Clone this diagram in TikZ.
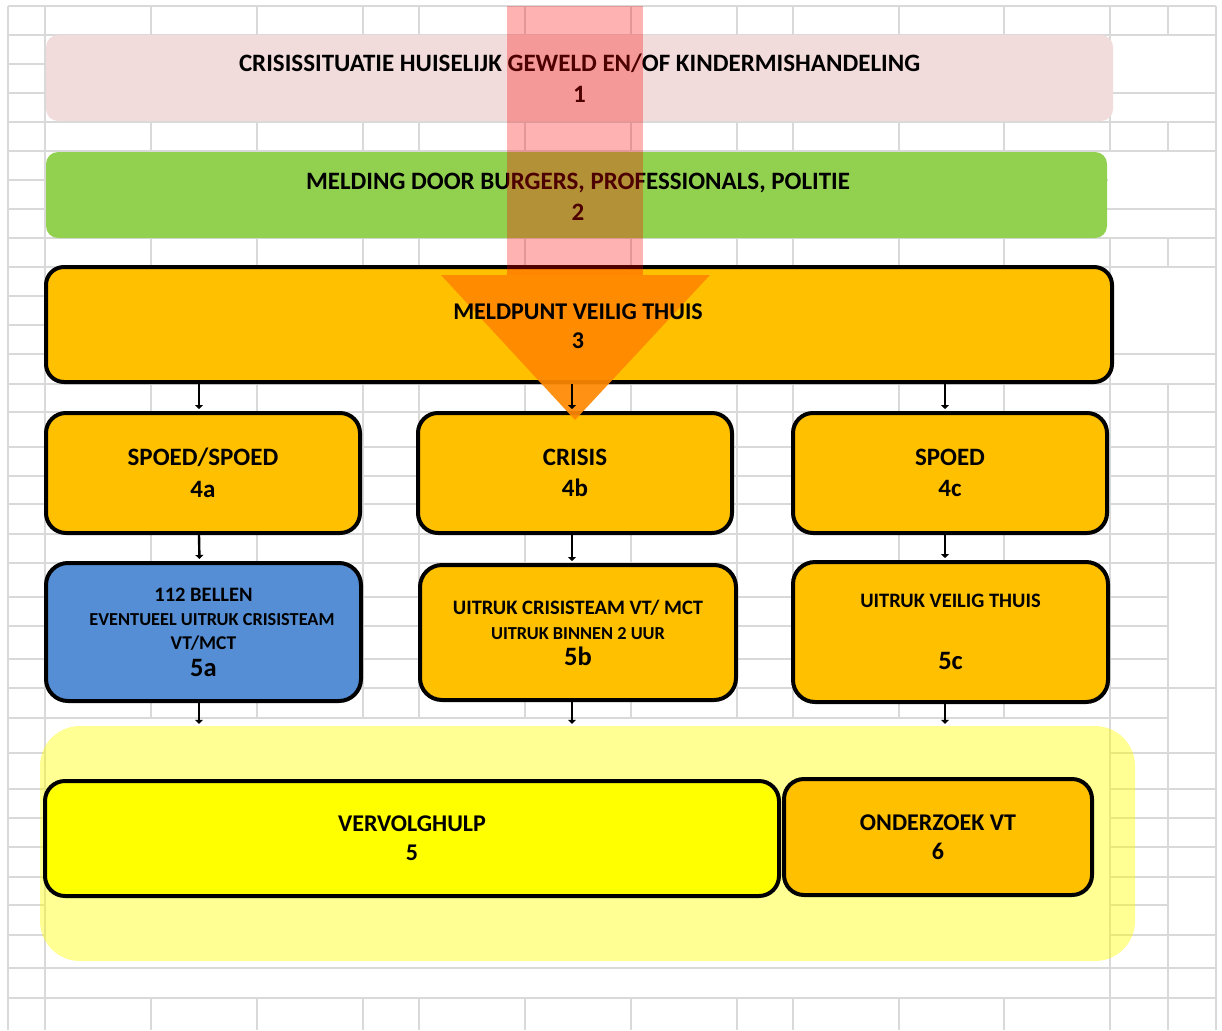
\documentclass[tikz,border=0pt]{standalone}
\usepackage{fontspec}
\setmainfont{Carlito}
\usetikzlibrary{arrows.meta}
\definecolor{gridgrey}{HTML}{D9D9D9}
\definecolor{boxpink}{HTML}{F2DCDB}
\definecolor{boxgreen}{HTML}{92D050}
\definecolor{boxorange}{HTML}{FFC000}
\definecolor{boxblue}{HTML}{558ED5}
\definecolor{boxyellow}{HTML}{FFFF00}
\definecolor{headorange}{HTML}{FF8800}
\newcommand\fBig{\fontsize{25}{31.5}\selectfont\bfseries}
\newcommand\fMed{\fontsize{24}{29}\selectfont\bfseries}
\newcommand\fNum{\fontsize{26.5}{31}\selectfont\bfseries}
\newcommand\fLineA{\fontsize{20.5}{25}\selectfont\bfseries}
\newcommand\fLineB{\fontsize{18.3}{25}\selectfont\bfseries}
\newcommand\fLineC{\fontsize{19.5}{24}\selectfont\bfseries}
\begin{document}
\begin{tikzpicture}[x=1pt,y=-1pt,
  gridline/.style={draw=gridgrey, line width=1.4pt},
  eraser/.style={fill=white, draw=none},
  flatbox/.style={rectangle, draw=none, align=center, text=black, font=\fBig},
  thickbox/.style={rectangle, draw=black, line width=4pt, align=center, text=black, font=\fBig},
  conn/.style={draw=black, line width=2.4pt, -{Triangle[length=4pt,width=8pt]}, shorten >=2pt},
]
\useasboundingbox (0,0) rectangle (1222,1030);
\fill[white] (0,0) rectangle (1222,1030);
% ---- spreadsheet grid ----
\foreach \gx in {8,45,151,257,363,419,525,631,737,793,899,1004,1110,1168,1216}
  \draw[gridline] (\gx,6) -- (\gx,1030);
\foreach \gy in {6,35,64,93,122,151,180,209,238,267,296,325,354,384,412,447,476,504,534,563,597,626,659,688,718,753,789,818,847,877,905,935,968,998}
  \draw[gridline] (8,\gy) -- (1216,\gy);
% merged cells
\fill[eraser] (1111,36) rectangle (1215,92);
\fill[eraser] (1111,94) rectangle (1215,121);
\fill[eraser] (1108,152) rectangle (1215,208);
\fill[eraser] (1108,210) rectangle (1215,237);
\fill[eraser] (1111,268) rectangle (1215,353);
\fill[eraser] (1111,355) rectangle (1215,383);
\fill[eraser] (1169,564) rectangle (1215,687);
\fill[eraser] (1169,689) rectangle (1215,752);
\fill[eraser] (1169,878) rectangle (1215,934);
\fill[eraser] (46,719) rectangle (1109,967);
\fill[eraser] (46,969) rectangle (1109,997);
% ---- background group ----
\node[rectangle, fill=boxyellow, fill opacity=0.42, rounded corners=40pt,
      minimum width=1095pt, minimum height=235pt] (grp) at (587.5,843.5) {};
% ---- boxes ----
\node[flatbox, fill=boxpink, rounded corners=12pt, minimum width=1067pt, minimum height=86pt]
  (n1) at (579.5,78) {CRISISSITUATIE HUISELIJK GEWELD EN/OF KINDERMISHANDELING\\1};
\node[flatbox, fill=boxgreen, rounded corners=12pt, minimum width=1061pt, minimum height=86pt]
  (n2) at (576.5,195) {};
\node[flatbox] (t2) at (578,197) {MELDING DOOR BURGERS, PROFESSIONALS, POLITIE\\2};
\node[thickbox, fill=boxorange, rounded corners=18pt, minimum width=1066pt, minimum height=115pt]
  (n3) at (579,324.5) {};
\node[thickbox, fill=boxorange, rounded corners=20pt, minimum width=314pt, minimum height=120pt]
  (n4a) at (203,473) {SPOED/SPOED\\4a};
\node[thickbox, fill=boxorange, rounded corners=20pt, minimum width=314pt, minimum height=120pt]
  (n4b) at (575,473) {CRISIS\\4b};
\node[thickbox, fill=boxorange, rounded corners=20pt, minimum width=314pt, minimum height=120pt]
  (n4c) at (950,473) {SPOED\\4c};
\node[thickbox, fill=boxblue, rounded corners=22pt, minimum width=315pt, minimum height=138pt, font=\fLineC]
  (n5a) at (203.5,632) {{\fontsize{20.5}{24}\selectfont 112 BELLEN}\\\hspace*{17pt}{\fontsize{18.3}{24}\selectfont EVENTUEEL UITRUK CRISISTEAM}\\VT/MCT\\[3pt]{\fNum 5a}};
\node[thickbox, fill=boxorange, rounded corners=22pt, minimum width=316pt, minimum height=135pt, font=\fLineB]
  (n5b) at (578,632.5) {{\fontsize{20.5}{25}\selectfont UITRUK CRISISTEAM VT/ MCT}\\UITRUK BINNEN 2 UUR\\[1pt]{\fNum 5b}};
\node[thickbox, fill=boxorange, rounded corners=22pt, minimum width=315pt, minimum height=140pt, font=\fLineA]
  (n5c) at (950.5,632) {UITRUK VEILIG THUIS\\[37pt]{\fNum 5c}};
\node[thickbox, fill=boxyellow, rounded corners=20pt, minimum width=734pt, minimum height=115pt, font=\fMed]
  (n5) at (412,838.5) {VERVOLGHULP\\5};
\node[thickbox, fill=boxorange, rounded corners=20pt, minimum width=308pt, minimum height=116pt, font=\fMed]
  (n6) at (938,837) {ONDERZOEK VT\\6};
% ---- big arrow ----
\fill[red, opacity=0.3] (507,6) rectangle (643,275);
\fill[headorange, opacity=0.92] (441,275) -- (710,275) -- (575,420) -- cycle;
\node[flatbox, font=\fMed] (t3) at (578,326) {MELDPUNT VEILIG THUIS\\3};
% ---- connectors ----
\draw[conn] ([xshift=-4pt]n4a.north |- n3.south) -- ([xshift=-4pt]n4a.north);
\draw[conn] ([xshift=-3pt]n4b.north |- n3.south) -- ([xshift=-3pt]n4b.north);
\draw[conn] ([xshift=-5pt]n4c.north |- n3.south) -- ([xshift=-5pt]n4c.north);
\draw[conn] ([xshift=-4pt]n4a.south) -- ([xshift=-4pt]n5a.north);
\draw[conn] ([xshift=-3pt]n4b.south) -- ([xshift=-6pt]n5b.north);
\draw[conn] ([xshift=-5pt]n4c.south) -- ([xshift=-5.5pt]n5c.north);
\draw[conn] ([xshift=-4.5pt]n5a.south) -- ([xshift=-4.5pt]n5a.south |- grp.north);
\draw[conn] ([xshift=-6pt]n5b.south) -- ([xshift=-6pt]n5b.south |- grp.north);
\draw[conn] ([xshift=-5.5pt]n5c.south) -- ([xshift=-5.5pt]n5c.south |- grp.north);
\end{tikzpicture}
\end{document}
